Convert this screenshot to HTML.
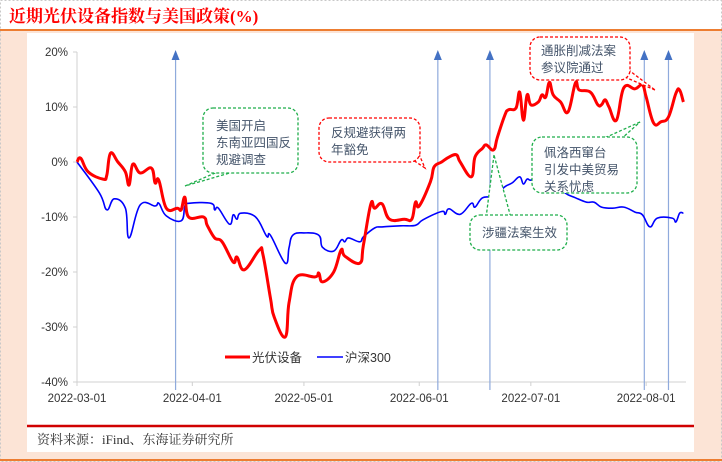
<!DOCTYPE html>
<html><head><meta charset="utf-8">
<style>
html,body{margin:0;padding:0;}
body{width:722px;height:462px;overflow:hidden;background:#fce4d6;font-family:"Liberation Sans","Noto Sans CJK SC",sans-serif;}
svg{display:block;}
</style></head>
<body>
<svg id="chart" width="722" height="462" xmlns="http://www.w3.org/2000/svg">
  <rect x="0" y="0" width="722" height="462" fill="#fce4d6"/>
  <rect x="0" y="0" width="722" height="30" fill="#ffffff"/>
  <rect x="0.5" y="0.5" width="721" height="461" fill="none" stroke="#c8c8c8" stroke-dasharray="2,2"/>
  <line x1="0" y1="30" x2="722" y2="30" stroke="#ed7d31" stroke-width="2"/>
  <line x1="0" y1="460" x2="722" y2="460" stroke="#ed7d31" stroke-width="2"/>
  <text x="9" y="22" font-family="'Liberation Serif','Noto Serif CJK SC',serif" font-weight="bold" font-size="17" fill="#ff0000">近期光伏设备指数与美国政策(%)</text>
  <rect x="27" y="33" width="667" height="419" fill="#ffffff"/>
  <line x1="27" y1="426" x2="694" y2="426" stroke="#d00000" stroke-width="2.5"/>
  <text x="37" y="444" font-family="'Liberation Serif','Noto Serif CJK SC',serif" font-size="13" fill="#333">资料来源：iFind、东海证券研究所</text>
  <g id="axes"></g>
  <g id="events"></g>
  <g id="series"></g>
  <g id="callouts"></g>
  <g id="legend"></g>
</svg>
<script>
// ---- data ----
const yTicks = [20, 10, 0, -10, -20, -30, -40];
const monthLabels = ["2022-03-01","2022-04-01","2022-05-01","2022-06-01","2022-07-01","2022-08-01"];
const monthDays = [0, 31, 61, 92, 122, 153];
const eventDays = [26.5, 97, 111, 152.5, 159];
const pvDays = [0,1,3,7,8,9,11,13,14,15,17,20,21,22,24,27,28,29,30,34,35,37,39,42,43,45,49,50,52,53,56,57,59,64,65,66,69,71,72,76,77,79,80,82,84,88,90,91,92,95,96,98,100,102,103,106,107,109,110,112,113,115,116,118,119,120,121,122,124,125,126,127,128,130,132,134,135,138,140,141,142,143,145,147,150,152,153,155,157,159,161,162,163];
const pvValues = [0,0.7,-1.8,-3.1,-2.4,1.6,0,-1.8,-4.2,-0.4,-2.0,-1.1,-3.8,-3.3,-8.4,-8.4,-8.7,-6.4,-10.0,-10.0,-11.5,-13.8,-14.5,-18.2,-17.3,-19.6,-16.0,-16.9,-24.7,-28.2,-31.8,-25.6,-20.9,-20.9,-20.2,-21.8,-20.0,-16.0,-17.1,-18.4,-15.1,-7.6,-8.4,-7.6,-10.4,-10.4,-10.4,-7.3,-8.0,-3.6,-0.9,0,0.9,1.3,0,-2.7,0.9,2.5,3.1,2.2,4.5,8.5,9.5,9.8,12.7,7.6,12.2,10.4,10.9,12.2,11.8,14.5,12.2,10.9,9.1,14.4,13.1,12.7,10.4,10.4,11.3,10.0,7.6,13.5,13.3,14.0,11.8,7.1,7.3,8.2,12.5,13.1,10.9];
const hsDays = [0,6,8,10,13,14,17,21,22,24,28,29,30,36,37,38,41,42,43,44,48,51,52,56,57,58,61,65,66,69,71,72,73,76,77,80,82,87,91,93,98,99,100,103,106,107,109,112,115,117,119,120,121,122,124,128,131,134,137,139,141,144,147,150,152,154,156,160,161,162,163];
const hsValues = [0,-5.6,-8.7,-6.7,-8.4,-13.8,-7.8,-8.0,-7.5,-9.8,-10.7,-8.0,-7.5,-7.5,-8.7,-8.4,-11.3,-9.6,-10.4,-9.3,-10.0,-13.5,-13.3,-18.4,-15.6,-13.3,-12.9,-13.3,-15.5,-16.2,-14.2,-14.5,-13.8,-14.5,-13.6,-12.0,-11.8,-11.6,-11.5,-10.5,-9.0,-9.5,-8.5,-9.5,-7.5,-8.2,-6.5,-6.2,-4.5,-3.8,-2.7,-4.0,-3.1,-3.3,-2.7,-3.0,-5.5,-6.5,-7.3,-7.3,-8.2,-8.4,-8.2,-9.1,-9.6,-11.8,-10.2,-10.2,-10.9,-9.3,-9.3];

// ---- axes ----
const X0 = 77, PX_PER_DAY = 3.72, Y0 = 162, PX_PER_PCT = 5.5;
const xs = d => X0 + d * PX_PER_DAY;
const ys = v => Y0 - v * PX_PER_PCT;
const NS = "http://www.w3.org/2000/svg";
function mk(tag, attrs, parent, text){
  const e = document.createElementNS(NS, tag);
  for (const k in attrs) e.setAttribute(k, attrs[k]);
  if (text !== undefined) e.textContent = text;
  parent.appendChild(e);
  return e;
}
const axes = document.getElementById("axes");
let e;
e = mk("line",{x1:X0,y1:ys(20),x2:X0,y2:ys(-40),stroke:"#d0d0d0","stroke-width":1},axes);


e = mk("line",{x1:X0,y1:ys(-40),x2:686,y2:ys(-40),stroke:"#d0d0d0","stroke-width":1},axes);


yTicks.forEach(v=>{
  const t = mk("line",{x1:X0-4,y1:ys(v),x2:X0,y2:ys(v),stroke:"#d0d0d0"},axes);
  
  
  const l = mk("text",{x:X0-9,y:ys(v)+4,"text-anchor":"end","font-size":11.5,fill:"#333"},axes,v+"%");
  
  
});
monthDays.forEach((d,i)=>{
  const t = mk("line",{x1:xs(d),y1:ys(-40),x2:xs(d),y2:ys(-40)+4,stroke:"#d0d0d0"},axes);
  
  
  const l = mk("text",{x:xs(d),y:402,"text-anchor":"middle","font-size":11.5,fill:"#333"},axes,monthLabels[i]);
  
  
});

// ---- event arrows ----
const ev = document.getElementById("events");
eventDays.forEach(d=>{
  const x = xs(d);
  const l = mk("line",{x1:x,y1:58,x2:x,y2:390,stroke:"#8faadc","stroke-width":1.2},ev);
  
  
  const h = mk("polygon",{points:`${x-4},60 ${x+4},60 ${x},50`,fill:"#4472c4"},ev);
  
  
});

// ---- series (smoothed) ----
const sg = document.getElementById("series");
function path(days, vals){
  const p = days.map((d,i)=>[xs(d), ys(vals[i])]);
  let s = "M"+p[0][0].toFixed(1)+","+p[0][1].toFixed(1);
  const t = 0.2;
  for (let i=0;i<p.length-1;i++){
    const p0 = p[Math.max(0,i-1)], p1 = p[i], p2 = p[i+1], p3 = p[Math.min(p.length-1,i+2)];
    const c1x = p1[0]+(p2[0]-p0[0])*t, c1y = p1[1]+(p2[1]-p0[1])*t;
    const c2x = p2[0]-(p3[0]-p1[0])*t, c2y = p2[1]-(p3[1]-p1[1])*t;
    s += " C"+c1x.toFixed(1)+","+c1y.toFixed(1)+" "+c2x.toFixed(1)+","+c2y.toFixed(1)+" "+p2[0].toFixed(1)+","+p2[1].toFixed(1);
  }
  return s;
}
e = mk("path",{d:path(hsDays,hsValues),fill:"none",stroke:"#0000ff","stroke-width":1.6,"stroke-linejoin":"round"},sg);


e = mk("path",{d:path(pvDays,pvValues),fill:"none",stroke:"#ff0000","stroke-width":3,"stroke-linejoin":"round"},sg);



// ---- callouts ----
const cg = document.getElementById("callouts");
function callout(name, x, y, w, h, color, tail, lines, tx, ty){
  const g = mk("g",{},cg);
  
  
  mk("polygon",{points:tail,fill:"#fff",stroke:color,"stroke-width":1.3,"stroke-dasharray":"3,2"},g);
  mk("rect",{x:x,y:y,width:w,height:h,rx:10,fill:"#fff",stroke:color,"stroke-width":1.3,"stroke-dasharray":"3,2"},g);
  lines.forEach((s,i)=>mk("text",{x:tx,y:ty+i*17,"font-size":12.5,fill:"#44546a"},g,s));
}
callout("callout-sea-investigation",203,108,95,65,"#1fae4b","185,186 222,170 240,170",["美国开启","东南亚四国反","规避调查"],216,130);
callout("callout-exemption",319,118,101,44,"#ff0000","425,168 410,158 418,152",["反规避获得两","年豁免"],331,137);
callout("callout-ira",530,37,100,43,"#ff0000","655,90 620,75 626,68",["通胀削减法案","参议院通过"],541,55);
callout("callout-pelosi",532,137,105,56,"#1fae4b","640,122 600,140 620,140",["佩洛西窜台","引发中美贸易","关系忧虑"],544,157);
callout("callout-xinjiang",470,215,97,35,"#1fae4b","494,155 486,218 511,218",["涉疆法案生效"],482,237);

// ---- legend ----
const lg = document.getElementById("legend");
let it = mk("g",{},lg);


mk("line",{x1:225,y1:357,x2:250,y2:357,stroke:"#ff0000","stroke-width":3},it);
mk("text",{x:252,y:362,"font-size":12.5,fill:"#333"},it,"光伏设备");
it = mk("g",{},lg);


mk("line",{x1:317,y1:357,x2:343,y2:357,stroke:"#0000ff","stroke-width":1.6},it);
mk("text",{x:345,y:362,"font-size":12.5,fill:"#333"},it,"沪深300");
</script>
</body></html>
